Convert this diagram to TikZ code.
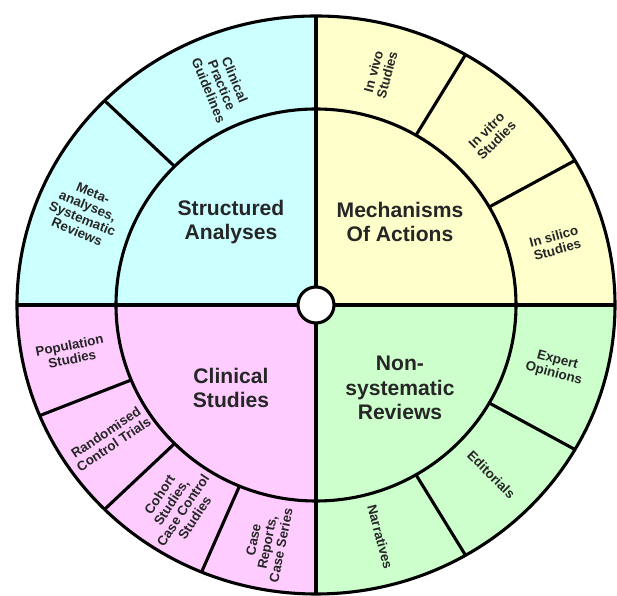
\documentclass[tikz,border=0pt]{standalone}
\usepackage{fontspec}
\setmainfont{Liberation Sans}
\definecolor{structfill}{RGB}{204,255,255}
\definecolor{mechfill}{RGB}{255,255,204}
\definecolor{clinfill}{RGB}{255,204,255}
\definecolor{nonsysfill}{RGB}{204,255,204}
\tikzset{
  ring/.style={line width=2.2pt},
  hub/.style={font=\bfseries\fontsize{15}{17.5}\selectfont,align=center,text=black!85},
  leaf/.style={font=\bfseries\fontsize{9.5}{10}\selectfont,align=center,text=black!85}
}

\begin{document}
\begin{tikzpicture}[x=0.025cm,y=0.025cm]
    \useasboundingbox (-316,-291) rectangle (301,305);
    \fill[structfill] (0,0) -- (90:299 and 289) arc[start angle=90,end angle=180,x radius=299,y radius=289] -- cycle;
    \fill[mechfill] (0,0) -- (0:299 and 289) arc[start angle=0,end angle=90,x radius=299,y radius=289] -- cycle;
    \fill[clinfill] (0,0) -- (180:299 and 289) arc[start angle=180,end angle=270,x radius=299,y radius=289] -- cycle;
    \fill[nonsysfill] (0,0) -- (270:299 and 289) arc[start angle=270,end angle=360,x radius=299,y radius=289] -- cycle;
    \draw[ring] (0,0) ellipse[x radius=299,y radius=289];
    \draw[ring] (0,0) ellipse[x radius=200,y radius=196];
    \draw[ring] (-299,0) -- (299,0);
    \draw[ring] (0,-289) -- (0,289);
    \foreach \a in {30,60,135,202.5,225,247.5,300,330}
      \draw[ring] (\a:200 and 196) -- (\a:299 and 289);
    \draw[ring,fill=white] (0,0) circle (18);

    \node[hub] (struct) at (-85,83) {Structured\\Analyses};
    \node[hub] (mech) at (84,83) {Mechanisms\\Of Actions};
    \node[hub] (clin) at (-85,-83) {Clinical\\Studies};
    \node[hub] (nonsys) at (84,-83) {Non-\\systematic\\Reviews};

    \node[leaf,rotate=-67.5] (guide) at (112.5:246 and 238) {Clinical\\Practice\\Guidelines};
    \node[leaf,rotate=-22.5] (meta) at (157.5:250 and 242) {Meta-\\analyses,\\Systematic\\Reviews};
    \node[leaf,rotate=75] (vivo) at (75:248 and 240) {In vivo\\Studies};
    \node[leaf,rotate=45] (vitro) at (45:248 and 240) {In vitro\\Studies};
    \node[leaf,rotate=15] (silico) at (15:248 and 240) {In silico\\Studies};
    \node[leaf,rotate=-15] (expert) at (-15:248 and 240) {Expert\\Opinions};
    \node[leaf,rotate=-45] (edit) at (-45:248 and 240) {Editorials};
    \node[leaf,rotate=-75] (narr) at (-75:248 and 240) {Narratives};
    \node[leaf,rotate=11.25] (popul) at (191.25:250 and 242) {Population\\Studies};
    \node[leaf,rotate=33.75] (rct) at (213.75:248 and 240) {Randomised\\Control Trials};
    \node[leaf,rotate=56.25] (cohort) at (236.25:250 and 242) {Cohort\\Studies,\\Case Control\\Studies};
    \node[leaf,rotate=78.75] (caserep) at (258.75:250 and 242) {Case\\Reports,\\Case Series};
\end{tikzpicture}
\end{document}
